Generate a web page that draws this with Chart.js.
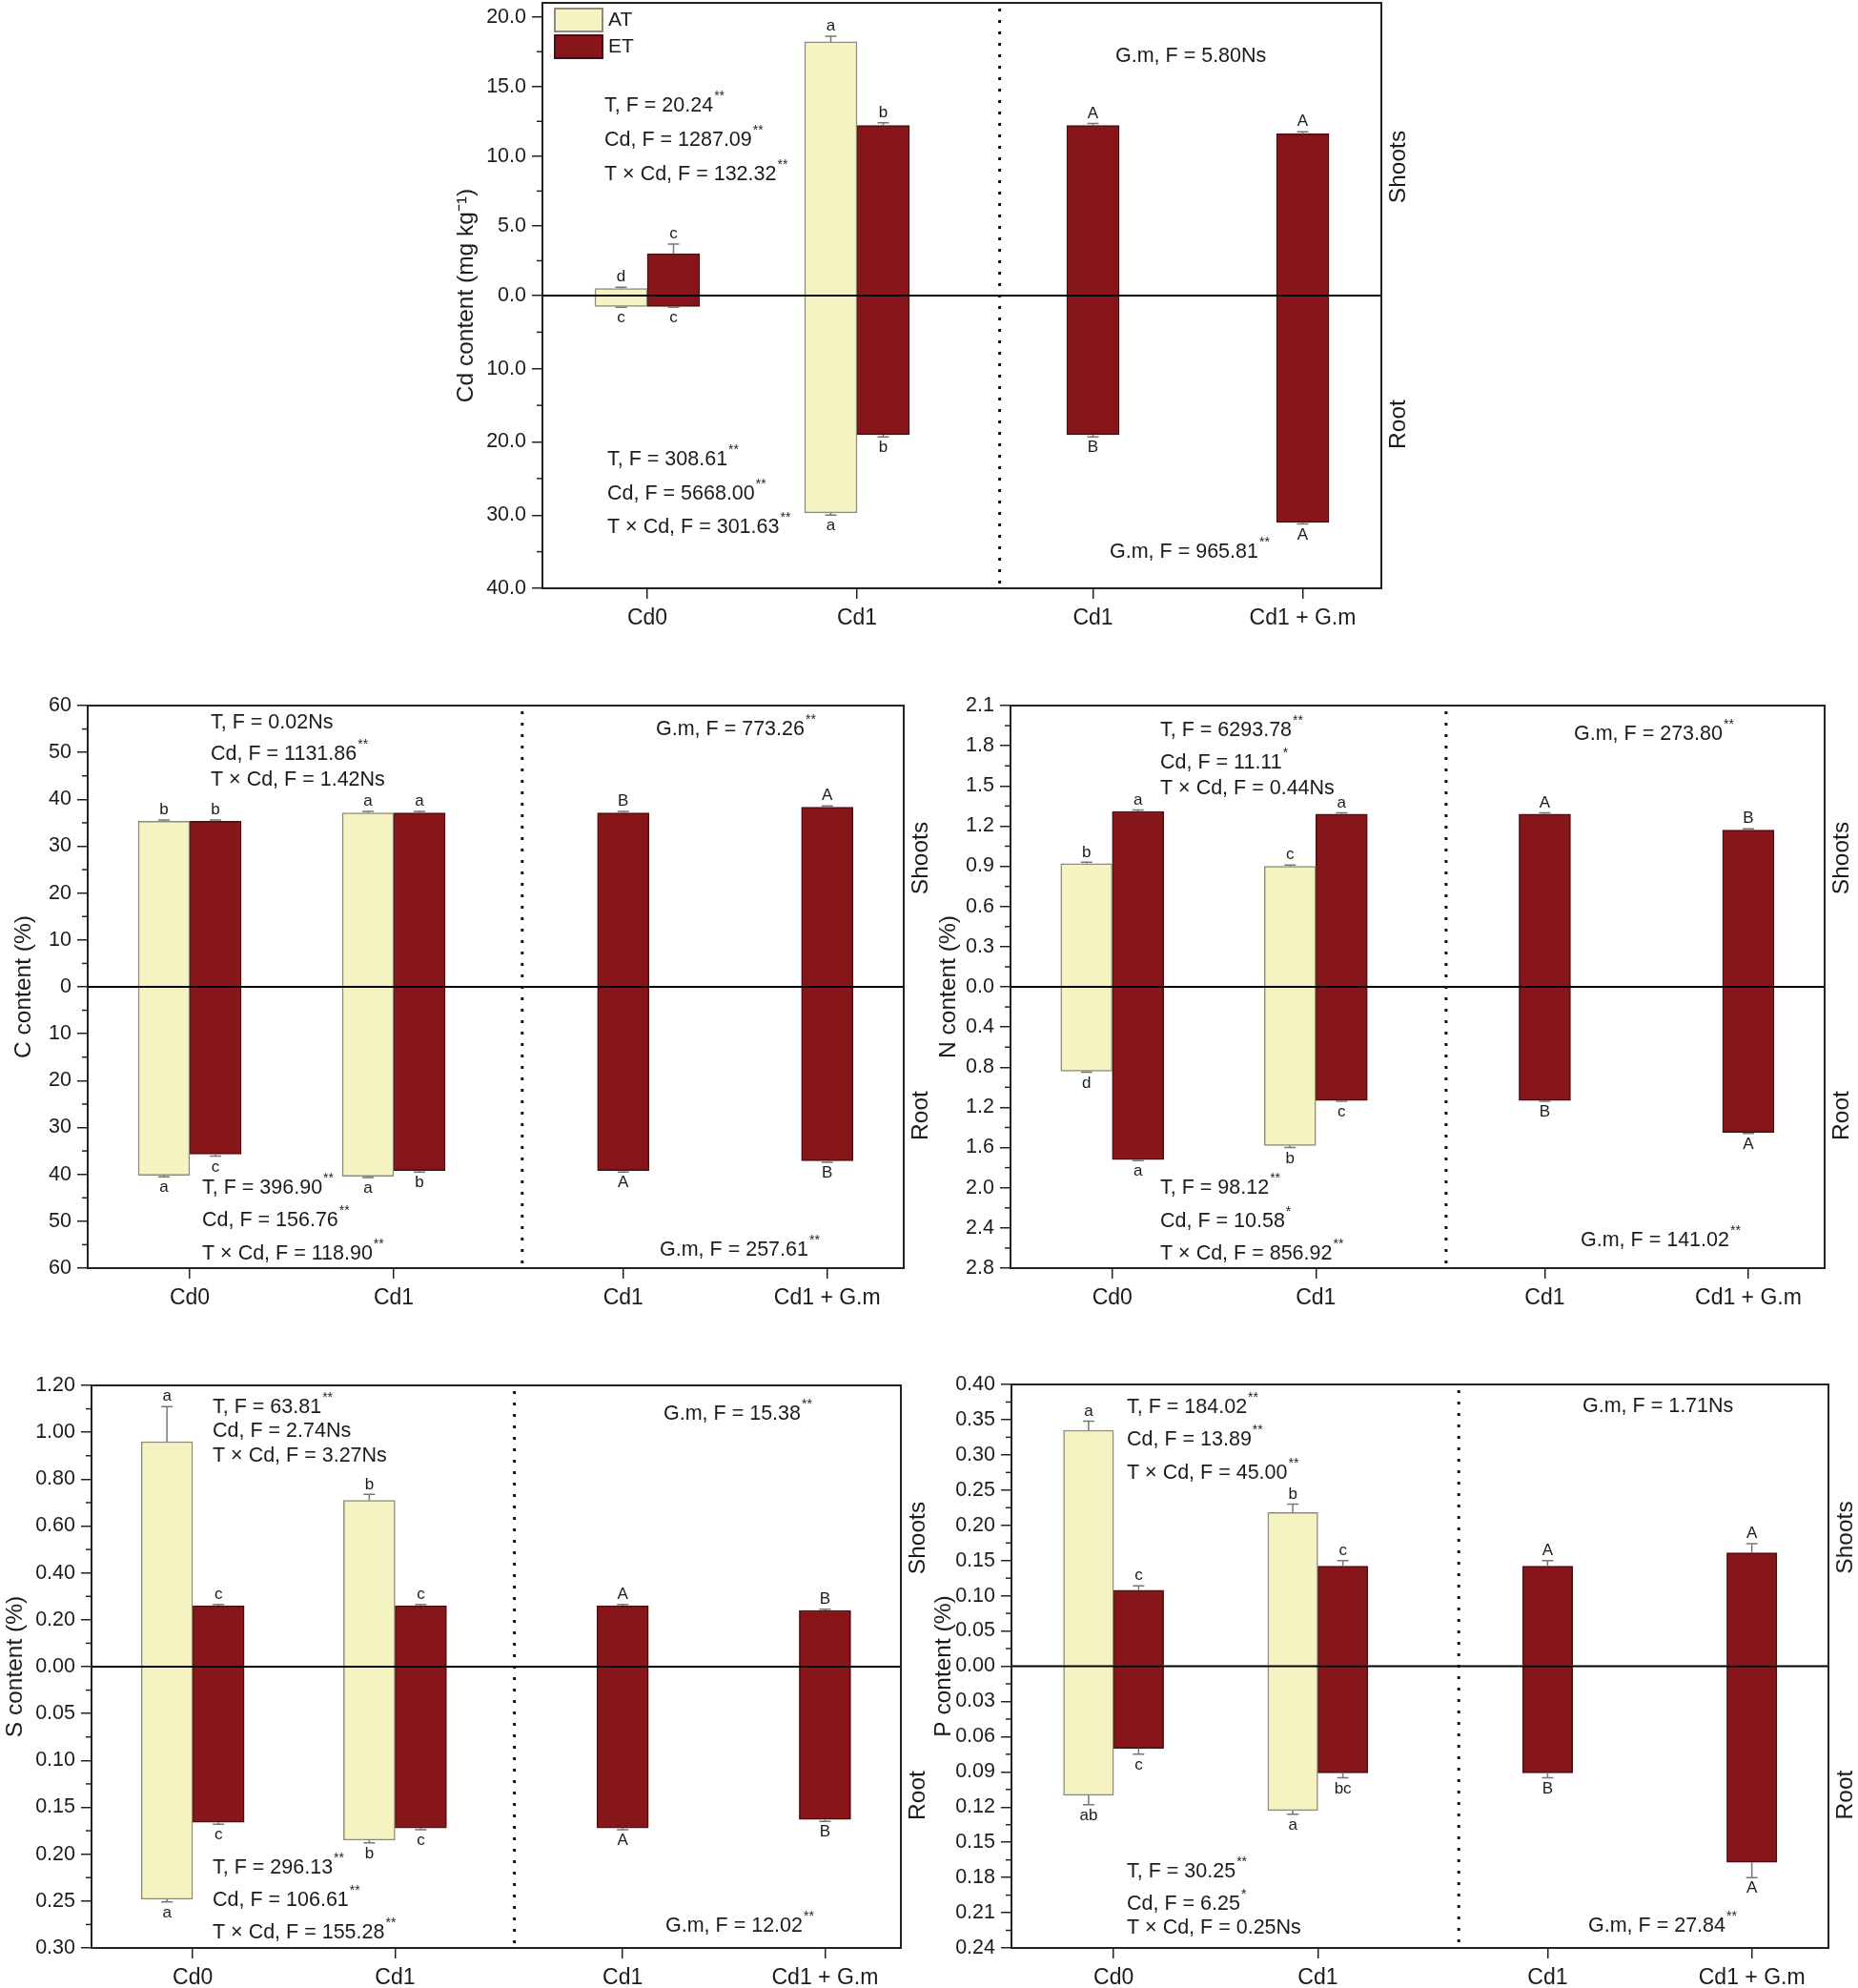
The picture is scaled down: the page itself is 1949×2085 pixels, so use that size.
<!DOCTYPE html>
<html>
<head>
<meta charset="utf-8">
<script src="https://cdn.jsdelivr.net/npm/chart.js@4.4.1/dist/chart.umd.min.js"></script>
<style>
html,body{margin:0;padding:0;background:#fff;}
body{width:1949px;height:2085px;position:relative;overflow:hidden;}
canvas{position:absolute;left:0;top:0;}
</style>
</head>
<body>
<canvas id="chCd" width="1949" height="2085" style="width:1949px;height:2085px"></canvas>
<canvas id="chC" width="1949" height="2085" style="width:1949px;height:2085px"></canvas>
<canvas id="chN" width="1949" height="2085" style="width:1949px;height:2085px"></canvas>
<canvas id="chS" width="1949" height="2085" style="width:1949px;height:2085px"></canvas>
<canvas id="chP" width="1949" height="2085" style="width:1949px;height:2085px"></canvas>
<script>
// ---------------- DATA ----------------
const categories = ['Cd0', 'Cd1', 'Cd1', 'Cd1 + G.m'];
const categoryX = [1, 2, 3.125, 4.125];
const seriesNames = ['AT', 'ET'];

// Cd content (mg kg-1)
const cdShootAT = [0.5, 18.2, null, null];
const cdShootET = [3.0, 12.2, 12.2, 11.6];
const cdRootAT = [1.5, 29.7, null, null];
const cdRootET = [1.5, 19.0, 19.0, 31.0];
const cdShootATErr = [0.1, 0.4, null, null];
const cdShootETErr = [0.7, 0.2, 0.15, 0.15];
const cdRootATErr = [0.1, 0.3, null, null];
const cdRootETErr = [0.1, 0.3, 0.3, 0.2];
const cdShootATSig = ['d', 'a', '', ''];
const cdShootETSig = ['c', 'b', 'A', 'A'];
const cdRootATSig = ['c', 'a', '', ''];
const cdRootETSig = ['c', 'b', 'B', 'A'];
const cdShootStats = [['T, F = 20.24', '**'], ['Cd, F = 1287.09', '**'], ['T \u00d7 Cd, F = 132.32', '**']];
const cdShootGm = ['G.m, F = 5.80Ns', ''];
const cdRootStats = [['T, F = 308.61', '**'], ['Cd, F = 5668.00', '**'], ['T \u00d7 Cd, F = 301.63', '**']];
const cdRootGm = ['G.m, F = 965.81', '**'];

// C content (%)
const cShootAT = [35.3, 37.1, null, null];
const cShootET = [35.3, 37.1, 37.1, 38.3];
const cRootAT = [40.2, 40.4, null, null];
const cRootET = [35.7, 39.2, 39.2, 37.1];
const cShootATErr = [0.3, 0.3, null, null];
const cShootETErr = [0.3, 0.3, 0.3, 0.3];
const cRootATErr = [0.3, 0.3, null, null];
const cRootETErr = [0.4, 0.3, 0.3, 0.3];
const cShootATSig = ['b', 'a', '', ''];
const cShootETSig = ['b', 'a', 'B', 'A'];
const cRootATSig = ['a', 'a', '', ''];
const cRootETSig = ['c', 'b', 'A', 'B'];
const cShootStats = [['T, F = 0.02Ns', ''], ['Cd, F = 1131.86', '**'], ['T \u00d7 Cd, F = 1.42Ns', '']];
const cShootGm = ['G.m, F = 773.26', '**'];
const cRootStats = [['T, F = 396.90', '**'], ['Cd, F = 156.76', '**'], ['T \u00d7 Cd, F = 118.90', '**']];
const cRootGm = ['G.m, F = 257.61', '**'];

// N content (%)
const nShootAT = [0.92, 0.90, null, null];
const nShootET = [1.31, 1.29, 1.29, 1.17];
const nRootAT = [0.84, 1.58, null, null];
const nRootET = [1.72, 1.13, 1.13, 1.45];
const nShootATErr = [0.01, 0.01, null, null];
const nShootETErr = [0.01, 0.01, 0.01, 0.01];
const nRootATErr = [0.01, 0.02, null, null];
const nRootETErr = [0.01, 0.01, 0.01, 0.01];
const nShootATSig = ['b', 'c', '', ''];
const nShootETSig = ['a', 'a', 'A', 'B'];
const nRootATSig = ['d', 'b', '', ''];
const nRootETSig = ['a', 'c', 'B', 'A'];
const nShootStats = [['T, F = 6293.78', '**'], ['Cd, F = 11.11', '*'], ['T \u00d7 Cd, F = 0.44Ns', '']];
const nShootGm = ['G.m, F = 273.80', '**'];
const nRootStats = [['T, F = 98.12', '**'], ['Cd, F = 10.58', '*'], ['T \u00d7 Cd, F = 856.92', '**']];
const nRootGm = ['G.m, F = 141.02', '**'];

// S content (%)
const sShootAT = [0.96, 0.71, null, null];
const sShootET = [0.26, 0.26, 0.26, 0.24];
const sRootAT = [0.248, 0.185, null, null];
const sRootET = [0.166, 0.172, 0.172, 0.163];
const sShootATErr = [0.15, 0.025, null, null];
const sShootETErr = [0.005, 0.005, 0.005, 0.005];
const sRootATErr = [0.003, 0.003, null, null];
const sRootETErr = [0.002, 0.002, 0.002, 0.002];
const sShootATSig = ['a', 'b', '', ''];
const sShootETSig = ['c', 'c', 'A', 'B'];
const sRootATSig = ['a', 'b', '', ''];
const sRootETSig = ['c', 'c', 'A', 'B'];
const sShootStats = [['T, F = 63.81', '**'], ['Cd, F = 2.74Ns', ''], ['T \u00d7 Cd, F = 3.27Ns', '']];
const sShootGm = ['G.m, F = 15.38', '**'];
const sRootStats = [['T, F = 296.13', '**'], ['Cd, F = 106.61', '**'], ['T \u00d7 Cd, F = 155.28', '**']];
const sRootGm = ['G.m, F = 12.02', '**'];

// P content (%)
const pShootAT = [0.335, 0.218, null, null];
const pShootET = [0.108, 0.142, 0.142, 0.161];
const pRootAT = [0.110, 0.123, null, null];
const pRootET = [0.070, 0.091, 0.091, 0.167];
const pShootATErr = [0.013, 0.012, null, null];
const pShootETErr = [0.006, 0.008, 0.008, 0.013];
const pRootATErr = [0.008, 0.003, null, null];
const pRootETErr = [0.005, 0.004, 0.004, 0.013];
const pShootATSig = ['a', 'b', '', ''];
const pShootETSig = ['c', 'c', 'A', 'A'];
const pRootATSig = ['ab', 'a', '', ''];
const pRootETSig = ['c', 'bc', 'B', 'A'];
const pShootStats = [['T, F = 184.02', '**'], ['Cd, F = 13.89', '**'], ['T \u00d7 Cd, F = 45.00', '**']];
const pShootGm = ['G.m, F = 1.71Ns', ''];
const pRootStats = [['T, F = 30.25', '**'], ['Cd, F = 6.25', '*'], ['T \u00d7 Cd, F = 0.25Ns', '']];
const pRootGm = ['G.m, F = 27.84', '**'];

// ---------------- STYLE ----------------
const FONT = "'Liberation Sans', Arial, Helvetica, sans-serif";
const TXT = '#1b1b1b';
const AT_FILL = '#F6F3C2', AT_LINE = '#8E8C78';
const ET_FILL = '#86161A', ET_LINE = '#4B0D0F';
Chart.defaults.font.family = FONT;
Chart.defaults.color = TXT;

const layouts = {};

function xy(vals) { return vals.map((v, i) => ({ x: categoryX[i], y: v })); }

function line(ctx, x1, y1, x2, y2, w, c) {
  ctx.strokeStyle = c; ctx.lineWidth = w;
  ctx.beginPath(); ctx.moveTo(x1, y1); ctx.lineTo(x2, y2); ctx.stroke();
}
function statLine(ctx, x, y, main, sup) {
  ctx.fillStyle = TXT;
  ctx.font = '21.5px ' + FONT; ctx.textAlign = 'left'; ctx.textBaseline = 'middle';
  ctx.fillText(main, x, y);
  if (sup) {
    const w = ctx.measureText(main).width;
    ctx.font = '14px ' + FONT;
    ctx.fillText(sup, x + w + 1, y - 10);
  }
}
function vText(ctx, text, x, y, size) {
  ctx.save();
  ctx.translate(x, y); ctx.rotate(-Math.PI / 2);
  ctx.font = size + 'px ' + FONT; ctx.fillStyle = TXT;
  ctx.textAlign = 'center'; ctx.textBaseline = 'middle';
  ctx.fillText(text, 0, 0);
  ctx.restore();
}

const decor = {
  id: 'decor',
  afterDatasetsDraw(chart) {
    const L = layouts[chart.canvas.id];
    const ctx = chart.ctx, ca = chart.chartArea;
    const sx = chart.scales.x, yS = chart.scales.yS, yR = chart.scales.yR;
    const zero = yS.getPixelForValue(0);
    ctx.save();
    // error bars and significance letters
    chart.data.datasets.forEach((ds, i) => {
      const meta = chart.getDatasetMeta(i);
      const sc = chart.scales[ds.yAxisID];
      const down = ds.yAxisID === 'yR';
      meta.data.forEach((bar, j) => {
        const v = ds.data[j].y;
        if (v === null || v === undefined) return;
        const e = (ds.err && ds.err[j]) || 0;
        const pv = sc.getPixelForValue(v);
        const pe = sc.getPixelForValue(v + e);
        if (e > 0) {
          ctx.strokeStyle = '#777'; ctx.lineWidth = 1.5;
          ctx.beginPath();
          ctx.moveTo(bar.x, pv); ctx.lineTo(bar.x, pe);
          ctx.moveTo(bar.x - 6, pe); ctx.lineTo(bar.x + 6, pe);
          ctx.stroke();
        }
        const s = ds.sig && ds.sig[j];
        if (s) {
          ctx.fillStyle = TXT; ctx.font = '17px ' + FONT; ctx.textAlign = 'center';
          ctx.textBaseline = down ? 'top' : 'bottom';
          ctx.fillText(s, bar.x, down ? pe + 3 : pe - 2);
        }
      });
    });
    // zero line
    line(ctx, ca.left, zero, ca.right, zero, 2, '#000');
    // dotted divider
    const dxp = sx.getPixelForValue(L.divider);
    ctx.save();
    ctx.setLineDash([3, 9]);
    line(ctx, dxp, ca.top + 6, dxp, ca.bottom, 3, '#111');
    ctx.restore();
    // frame
    ctx.strokeStyle = '#222'; ctx.lineWidth = 2;
    ctx.strokeRect(ca.left, ca.top, ca.right - ca.left, ca.bottom - ca.top);
    // minor ticks
    [[yS, L.shootAxis], [yR, L.rootAxis]].forEach(([sc, ax]) => {
      for (let k = 0; (k + 0.5) * ax.step <= ax.max + 1e-9; k++) {
        const p = sc.getPixelForValue((k + 0.5) * ax.step);
        line(ctx, ca.left - 6, p, ca.left, p, 1.5, '#222');
      }
    });
    // statistics text
    L.shootStats.forEach((s, k) => statLine(ctx, ca.left + L.pos.sx, ca.top + L.pos.sy[k], s[0], s[1]));
    statLine(ctx, ca.left + L.pos.gsx, ca.top + L.pos.gsy, L.shootGm[0], L.shootGm[1]);
    L.rootStats.forEach((s, k) => statLine(ctx, ca.left + L.pos.rx, ca.top + L.pos.ry[k], s[0], s[1]));
    statLine(ctx, ca.left + L.pos.grx, ca.top + L.pos.gry, L.rootGm[0], L.rootGm[1]);
    // axis title and side labels
    vText(ctx, L.title, ca.left + L.titleDx, zero, 24.5);
    vText(ctx, 'Shoots', ca.right + 18, zero - 135, 24.5);
    vText(ctx, 'Root', ca.right + 18, zero + 135, 24.5);
    // legend
    if (L.legend) {
      const cols = [[AT_FILL, AT_LINE], [ET_FILL, ET_LINE]];
      seriesNames.forEach((nm, k) => {
        const y0 = ca.top + 6 + k * 28;
        ctx.fillStyle = cols[k][0]; ctx.fillRect(ca.left + 13, y0, 50, 24);
        ctx.strokeStyle = cols[k][1]; ctx.lineWidth = 2; ctx.strokeRect(ca.left + 13, y0, 50, 24);
        ctx.fillStyle = TXT; ctx.font = '21px ' + FONT; ctx.textAlign = 'left'; ctx.textBaseline = 'middle';
        ctx.fillText(nm, ca.left + 69, y0 + 12);
      });
    }
    ctx.restore();
  }
};

function tickList(step, maxTick, from) {
  const out = [];
  const n = Math.round(maxTick / step);
  for (let k = from; k <= n; k++) out.push({ value: +(k * step).toFixed(6) });
  return out;
}

function yAxis(ax, reverse, from) {
  return {
    type: 'linear', position: 'left', stack: 'split', stackWeight: 1, reverse: reverse,
    min: 0, max: ax.max,
    afterBuildTicks: s => { s.ticks = tickList(ax.step, ax.tickMax !== undefined ? ax.tickMax : ax.max, from); },
    afterFit: s => { s.width = 70; s.paddingTop = 0; s.paddingBottom = 0; },
    ticks: { autoSkip: false, padding: 6, font: { size: 21.5 }, color: TXT, callback: v => Number(v).toFixed(ax.dec) },
    grid: { display: true, drawOnChartArea: false, drawTicks: true, tickLength: 11, color: '#222', lineWidth: 1.5 },
    border: { display: false }
  };
}

function makeChart(id, L) {
  layouts[id] = L;
  const A = L.area;
  const mk = (label, vals, err, sig, axis, fill, border) => ({
    label: label, data: xy(vals), err: err, sig: sig, yAxisID: axis, stack: label,
    backgroundColor: fill, borderColor: border, borderWidth: 1.5,
    barThickness: L.barThickness, skipNull: true
  });
  const d = L.data;
  const datasets = [
    mk(seriesNames[0], d[0], d[4], d[8], 'yS', AT_FILL, AT_LINE),
    mk(seriesNames[1], d[1], d[5], d[9], 'yS', ET_FILL, ET_LINE),
    mk(seriesNames[0], d[2], d[6], d[10], 'yR', AT_FILL, AT_LINE),
    mk(seriesNames[1], d[3], d[7], d[11], 'yR', ET_FILL, ET_LINE)
  ];
  new Chart(document.getElementById(id), {
    type: 'bar',
    data: { datasets: datasets },
    options: {
      responsive: false, animation: false, devicePixelRatio: 1,
      layout: { autoPadding: false, padding: { left: A.l - 70, top: A.t, right: 1949 - A.r, bottom: 2085 - A.b - 40 } },
      plugins: { legend: { display: false }, tooltip: { enabled: false } },
      scales: {
        x: {
          type: 'linear', position: 'bottom', min: 0.5, max: 4.5, offset: false,
          afterBuildTicks: s => { s.ticks = categoryX.map(v => ({ value: v })); },
          afterFit: s => { s.height = 40; s.paddingLeft = 0; s.paddingRight = 0; },
          ticks: { autoSkip: false, maxRotation: 0, padding: 7, font: { size: 23 }, color: TXT,
                   callback: (v, i) => categories[i] },
          grid: { display: true, drawOnChartArea: false, drawTicks: true, tickLength: 11, color: '#222', lineWidth: 1.5, offset: false },
          border: { display: false }
        },
        // root axis listed first: Chart.js stacks later-listed left axes on top
        yR: yAxis(L.rootAxis, true, 1),
        yS: yAxis(L.shootAxis, false, 0)
      }
    },
    plugins: [decor]
  });
}

makeChart('chCd', {
  area: { l: 569, t: 3, r: 1449, b: 617 },
  shootAxis: { max: 21, tickMax: 20, step: 5, dec: 1 },
  rootAxis: { max: 40, step: 10, dec: 1 },
  title: 'Cd content (mg kg\u207b\u00b9)', titleDx: -80, divider: 2.68, barThickness: 55, legend: true,
  data: [cdShootAT, cdShootET, cdRootAT, cdRootET, cdShootATErr, cdShootETErr, cdRootATErr, cdRootETErr,
         cdShootATSig, cdShootETSig, cdRootATSig, cdRootETSig],
  shootStats: cdShootStats, shootGm: cdShootGm, rootStats: cdRootStats, rootGm: cdRootGm,
  pos: { sx: 65, sy: [108, 144, 180], gsx: 601, gsy: 56, rx: 68, ry: [479, 515, 550], grx: 595, gry: 576 }
});

makeChart('chC', {
  area: { l: 92, t: 740, r: 948, b: 1330 },
  shootAxis: { max: 60, step: 10, dec: 0 },
  rootAxis: { max: 60, step: 10, dec: 0 },
  title: 'C content (%)', titleDx: -67, divider: 2.63, barThickness: 54, legend: false,
  data: [cShootAT, cShootET, cRootAT, cRootET, cShootATErr, cShootETErr, cRootATErr, cRootETErr,
         cShootATSig, cShootETSig, cRootATSig, cRootETSig],
  shootStats: cShootStats, shootGm: cShootGm, rootStats: cRootStats, rootGm: cRootGm,
  pos: { sx: 129, sy: [18, 51, 78], gsx: 596, gsy: 25, rx: 120, ry: [506, 540, 575], grx: 600, gry: 571 }
});

makeChart('chN', {
  area: { l: 1060, t: 740, r: 1914, b: 1330 },
  shootAxis: { max: 2.1, step: 0.3, dec: 1 },
  rootAxis: { max: 2.8, step: 0.4, dec: 1 },
  title: 'N content (%)', titleDx: -65, divider: 2.64, barThickness: 54, legend: false,
  data: [nShootAT, nShootET, nRootAT, nRootET, nShootATErr, nShootETErr, nRootATErr, nRootETErr,
         nShootATSig, nShootETSig, nRootATSig, nRootETSig],
  shootStats: nShootStats, shootGm: nShootGm, rootStats: nRootStats, rootGm: nRootGm,
  pos: { sx: 157, sy: [26, 60, 87], gsx: 591, gsy: 30, rx: 157, ry: [506, 541, 575], grx: 598, gry: 561 }
});

makeChart('chS', {
  area: { l: 96, t: 1453, r: 945, b: 2043 },
  shootAxis: { max: 1.2, step: 0.2, dec: 2 },
  rootAxis: { max: 0.3, step: 0.05, dec: 2 },
  title: 'S content (%)', titleDx: -80, divider: 2.59, barThickness: 54, legend: false,
  data: [sShootAT, sShootET, sRootAT, sRootET, sShootATErr, sShootETErr, sRootATErr, sRootETErr,
         sShootATSig, sShootETSig, sRootATSig, sRootETSig],
  shootStats: sShootStats, shootGm: sShootGm, rootStats: sRootStats, rootGm: sRootGm,
  pos: { sx: 127, sy: [23, 48, 74], gsx: 600, gsy: 30, rx: 127, ry: [506, 540, 574], grx: 602, gry: 567 }
});

makeChart('chP', {
  area: { l: 1061, t: 1452, r: 1918, b: 2043 },
  shootAxis: { max: 0.4, step: 0.05, dec: 2 },
  rootAxis: { max: 0.24, step: 0.03, dec: 2 },
  title: 'P content (%)', titleDx: -71, divider: 2.69, barThickness: 52.5, legend: false,
  data: [pShootAT, pShootET, pRootAT, pRootET, pShootATErr, pShootETErr, pRootATErr, pRootETErr,
         pShootATSig, pShootETSig, pRootATSig, pRootETSig],
  shootStats: pShootStats, shootGm: pShootGm, rootStats: pRootStats, rootGm: pRootGm,
  pos: { sx: 121, sy: [24, 58, 93], gsx: 599, gsy: 23, rx: 121, ry: [511, 545, 570], grx: 605, gry: 568 }
});
</script>
</body>
</html>
